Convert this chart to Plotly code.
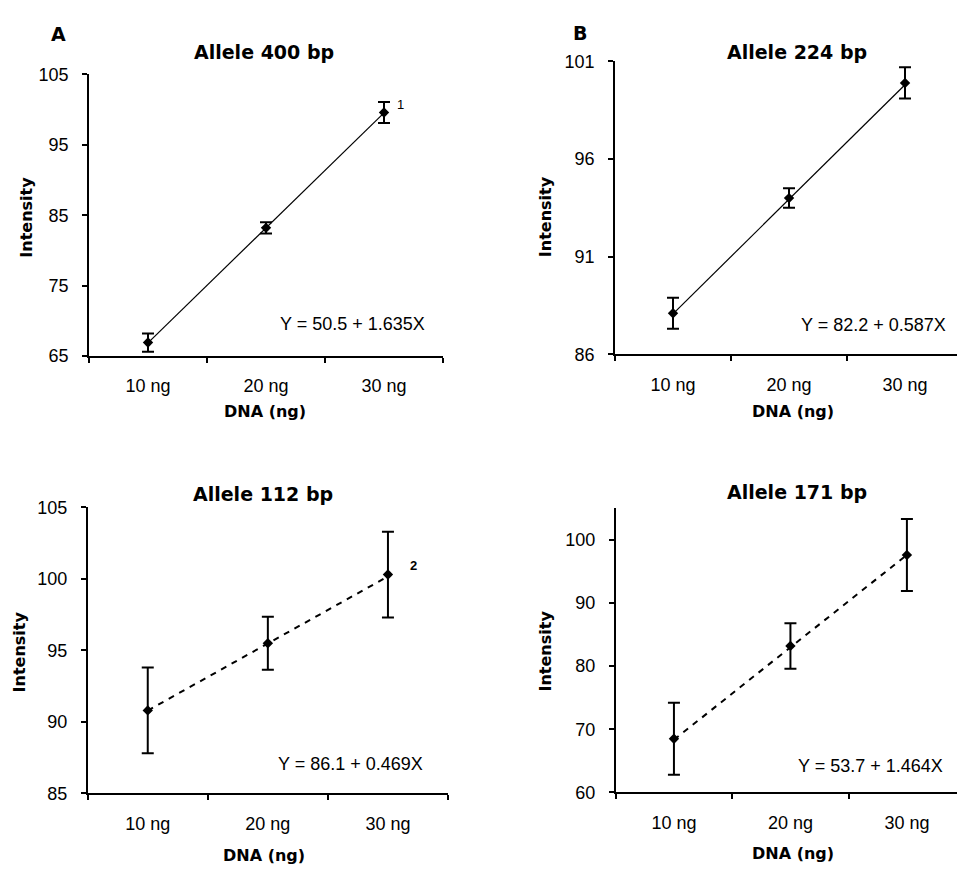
import plotly.graph_objects as go

W, H = 957, 873

# ---------------- data ----------------
categories = ["10 ng", "20 ng", "30 ng"]
dna_amount = [10, 20, 30]

panel_titles = ["Allele 400 bp", "Allele 224 bp", "Allele 112 bp", "Allele 171 bp"]

means_400 = [66.9, 83.2, 99.6]
err_400 = [1.3, 0.8, 1.5]
means_224 = [88.1, 94.0, 99.9]
err_224 = [0.8, 0.5, 0.8]
means_112 = [90.8, 95.5, 100.3]
err_112 = [3.0, 1.85, 3.0]
means_171 = [68.5, 83.2, 97.6]
err_171 = [5.7, 3.6, 5.7]

intercepts = [50.5, 82.2, 86.1, 53.7]
slopes = [1.635, 0.587, 0.469, 1.464]
equations = ["Y = 50.5 + 1.635X", "Y = 82.2 + 0.587X",
             "Y = 86.1 + 0.469X", "Y = 53.7 + 1.464X"]

y_ranges = [[65, 105], [86, 101], [85, 105], [60, 105]]
y_ticks = [[65, 75, 85, 95, 105], [86, 91, 96, 101],
           [85, 90, 95, 100, 105], [60, 70, 80, 90, 100]]

# ---------------- layout geometry (pixels) ----------------
# x0, x1, y_top, y_bottom of each plot area
boxes = [(89, 443, 66, 354), (615, 957, 52.7, 352.3),
         (87.7, 448, 509, 801.7), (615.7, 957, 510, 800.7)]
x_ranges = [[-0.5, 2.5], [-0.5, 2.448], [-0.5, 2.5], [-0.5, 2.43]]
dash_styles = ["solid", "solid", "6px,6px", "6px,6px"]
line_widths = [1.2, 1.2, 2, 2]

means_all = [means_400, means_224, means_112, means_171]
errs_all = [err_400, err_224, err_112, err_171]

TICK_FONT = dict(family="Liberation Sans, Arial", size=18, color="black")
BOLD = "DejaVu Sans"

fig = go.Figure()
annotations = []

for i in range(4):
    sfx = "" if i == 0 else str(i + 1)
    xa, ya = "x" + sfx, "y" + sfx
    x0, x1, yt, yb = boxes[i]
    fit = [intercepts[i] + slopes[i] * d for d in dna_amount]
    fig.add_trace(go.Scatter(
        x=categories, y=fit, mode="lines", xaxis=xa, yaxis=ya,
        line=dict(color="black", width=line_widths[i], dash=dash_styles[i]),
        showlegend=False, hoverinfo="skip"))
    fig.add_trace(go.Scatter(
        x=categories, y=means_all[i], mode="markers", xaxis=xa, yaxis=ya,
        marker=dict(symbol="diamond", size=8, color="black"),
        error_y=dict(type="data", array=errs_all[i], color="black",
                     thickness=2, width=6),
        showlegend=False))
    fig.layout["xaxis" + sfx] = dict(
        domain=[x0 / W, x1 / W], anchor=ya, type="category",
        categoryorder="array", categoryarray=categories,
        range=x_ranges[i], tickson="boundaries", ticks="outside",
        ticklen=5, tickwidth=1.5, tickcolor="black",
        showline=True, linecolor="black", linewidth=1.5,
        showgrid=False, zeroline=False, tickfont=TICK_FONT,
        ticklabelstandoff=13)
    fig.layout["yaxis" + sfx] = dict(
        domain=[1 - yb / H, 1 - yt / H], anchor=xa, range=y_ranges[i],
        tickvals=y_ticks[i], ticks="outside", ticklen=5, tickwidth=1.5,
        tickcolor="black", showline=True, linecolor="black", linewidth=1.5,
        showgrid=False, zeroline=False, tickfont=TICK_FONT,
        ticklabelstandoff=10)

# regression equations (positions in axis-domain fractions)
eq_pos = [(0.955, 0.112), (0.974, 0.099), (0.936, 0.102), (0.965, 0.094)]
for i in range(4):
    sfx = "" if i == 0 else str(i + 1)
    annotations.append(dict(
        text=equations[i], xref="x" + sfx + " domain", yref="y" + sfx + " domain",
        x=eq_pos[i][0], y=eq_pos[i][1], xanchor="right", yanchor="middle",
        showarrow=False, font=TICK_FONT))

# panel titles
title_pos = [(264, 43), (796.5, 43), (262.5, 495), (796.5, 493.3)]
for i in range(4):
    annotations.append(dict(
        text="<b>" + panel_titles[i] + "</b>", xref="paper", yref="paper",
        x=title_pos[i][0] / W, y=1 - title_pos[i][1] / H,
        xanchor="center", yanchor="middle", showarrow=False,
        font=dict(family=BOLD, size=19, color="black")))

# panel letters
for txt, (px, py) in [("A", (58, 25)), ("B", (579.5, 23.5))]:
    annotations.append(dict(
        text="<b>" + txt + "</b>", xref="paper", yref="paper",
        x=px / W, y=1 - py / H, xanchor="center", yanchor="middle",
        showarrow=False, font=dict(family=BOLD, size=19, color="black")))

# axis titles
ylab_pos = [(26.5, 212), (545, 212), (19.5, 657), (545.5, 656)]
xlab_pos = [(265, 411), (792.5, 411), (263.5, 865), (792.5, 863)]
for i in range(4):
    annotations.append(dict(
        text="<b>Intensity</b>", xref="paper", yref="paper",
        x=ylab_pos[i][0] / W, y=1 - ylab_pos[i][1] / H, textangle=-90,
        xanchor="center", yanchor="middle", showarrow=False,
        font=dict(family=BOLD, size=16, color="black")))
    annotations.append(dict(
        text="<b>DNA (ng)</b>", xref="paper", yref="paper",
        x=xlab_pos[i][0] / W, y=1 - xlab_pos[i][1] / H,
        xanchor="center", yanchor="middle", showarrow=False,
        font=dict(family=BOLD, size=16, color="black")))

# footnote markers
annotations.append(dict(text="1", xref="x", yref="y", x="30 ng", y=100.8,
                        xshift=16, showarrow=False,
                        font=dict(family="Liberation Sans, Arial", size=13, color="black")))
annotations.append(dict(text="<b>2</b>", xref="x3", yref="y3", x="30 ng", y=100.9,
                        xshift=26, showarrow=False,
                        font=dict(family="Liberation Sans, Arial", size=13, color="black")))

fig.update_layout(width=W, height=H, margin=dict(l=0, r=0, t=0, b=0),
                  paper_bgcolor="white", plot_bgcolor="white",
                  annotations=annotations, showlegend=False)

fig.write_html("out.html", config={"displayModeBar": False},
               post_script="document.body.style.margin='0px';"
                           "document.body.style.overflow='hidden';")
